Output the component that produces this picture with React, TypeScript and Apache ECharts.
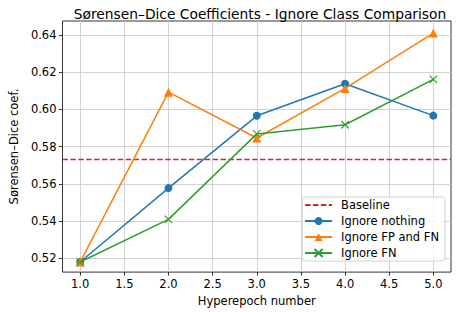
import React, { useEffect, useRef } from "react";
import * as echarts from "echarts";

const epochs = [1, 2, 3, 4, 5];
const ignoreNothing = [0.518, 0.5577, 0.5965, 0.6137, 0.5966];
const ignoreFPFN = [0.518, 0.6092, 0.5846, 0.6112, 0.6409];
const ignoreFN = [0.518, 0.5409, 0.5868, 0.5917, 0.6161];
const baseline = [0.5731];
const xTicks = [1.0, 1.5, 2.0, 2.5, 3.0, 3.5, 4.0, 4.5, 5.0];
const yTicks = [0.52, 0.54, 0.56, 0.58, 0.6, 0.62, 0.64];
const xRange = [0.8, 5.2];
const yRange = [0.5126, 0.6474];

const FONT = "DejaVu Sans";
const FS = 11.5;

export default function App() {
  const ref = useRef<HTMLDivElement>(null);
  useEffect(() => {
    document.body.style.margin = "0";
    const chart = echarts.init(ref.current!, null, { renderer: "svg" });
    const pairs = (ys: number[]) => epochs.map((x, i) => [x, ys[i]]);
    const xMark = "path://M0,0L10,10M10,0L0,10";
    chart.setOption({
      animation: false,
      backgroundColor: "#ffffff",
      title: {
        text: "Sørensen–Dice Coefficients - Ignore Class Comparison",
        left: 255,
        textAlign: "center",
        top: 2,
        textStyle: { fontFamily: FONT, fontSize: 13.8, fontWeight: "normal", color: "#000" },
      },
      grid: {
        left: 60,
        right: 6,
        top: 21,
        bottom: 37,
        show: true,
        borderColor: "#000",
        borderWidth: 0.8,
        backgroundColor: "transparent",
      },
      legend: {
        right: 12,
        top: 197,
        orient: "vertical",
        itemWidth: 27,
        itemHeight: 10,
        itemGap: 4,
        padding: [2, 6, 2, 2],
        backgroundColor: "rgba(255,255,255,0.8)",
        borderColor: "#d0d0d0",
        borderWidth: 1,
        borderRadius: 3,
        textStyle: { fontFamily: FONT, fontSize: FS, color: "#000", padding: [0, 0, 0, 4] },
        data: [
          { name: "Baseline", itemStyle: { opacity: 0 } },
          "Ignore nothing",
          "Ignore FP and FN",
          "Ignore FN",
        ],
      },
      xAxis: {
        type: "value",
        min: xRange[0],
        max: xRange[1],
        name: "Hyperepoch number",
        nameLocation: "middle",
        nameGap: 22,
        nameTextStyle: { fontFamily: FONT, fontSize: FS, color: "#000" },
        axisLine: { show: false },
        axisTick: { show: true, length: 3.5, inside: false, customValues: xTicks, lineStyle: { color: "#000", width: 0.8 } },
        axisLabel: {
          customValues: xTicks,
          fontFamily: FONT,
          fontSize: FS,
          color: "#000",
          margin: 6,
          formatter: (v: number) => v.toFixed(1),
        },
        splitLine: { show: true, lineStyle: { color: "#c8c8c8", width: 0.8 } },
      },
      yAxis: {
        type: "value",
        min: yRange[0],
        max: yRange[1],
        name: "Sørensen–Dice coef.",
        nameLocation: "middle",
        nameGap: 41,
        nameTextStyle: { fontFamily: FONT, fontSize: FS, color: "#000" },
        axisLine: { show: false },
        axisTick: { show: true, length: 3.5, customValues: yTicks, lineStyle: { color: "#000", width: 0.8 } },
        axisLabel: {
          customValues: yTicks,
          fontFamily: FONT,
          fontSize: FS,
          color: "#000",
          margin: 6,
          formatter: (v: number) => v.toFixed(2),
        },
        splitLine: { show: true, lineStyle: { color: "#c8c8c8", width: 0.8 } },
      },
      series: [
        {
          name: "Baseline",
          type: "line",
          symbol: "none",
          data: [
            [xRange[0], baseline[0]],
            [xRange[1], baseline[0]],
          ],
          lineStyle: { color: "#d62728", width: 1.5, type: [5.5, 2.4] },
          itemStyle: { color: "#d62728" },
          z: 2,
        },
        {
          name: "Ignore nothing",
          type: "line",
          data: pairs(ignoreNothing),
          symbol: "circle",
          symbolSize: 8,
          lineStyle: { color: "#1f77b4", width: 1.5 },
          itemStyle: { color: "#1f77b4" },
          z: 3,
        },
        {
          name: "Ignore FP and FN",
          type: "line",
          data: pairs(ignoreFPFN),
          symbol: "triangle",
          symbolSize: 9,
          lineStyle: { color: "#ff7f0e", width: 1.5 },
          itemStyle: { color: "#ff7f0e" },
          z: 4,
        },
        {
          name: "Ignore FN",
          type: "line",
          data: pairs(ignoreFN),
          symbol: xMark,
          symbolSize: 7.5,
          lineStyle: { color: "#2ca02c", width: 1.5 },
          itemStyle: { color: "#2ca02c", borderColor: "#2ca02c", borderWidth: 1.1 },
          z: 5,
        },
      ],
    });
    return () => chart.dispose();
  }, []);
  return <div ref={ref} style={{ width: 457, height: 312 }} />;
}
